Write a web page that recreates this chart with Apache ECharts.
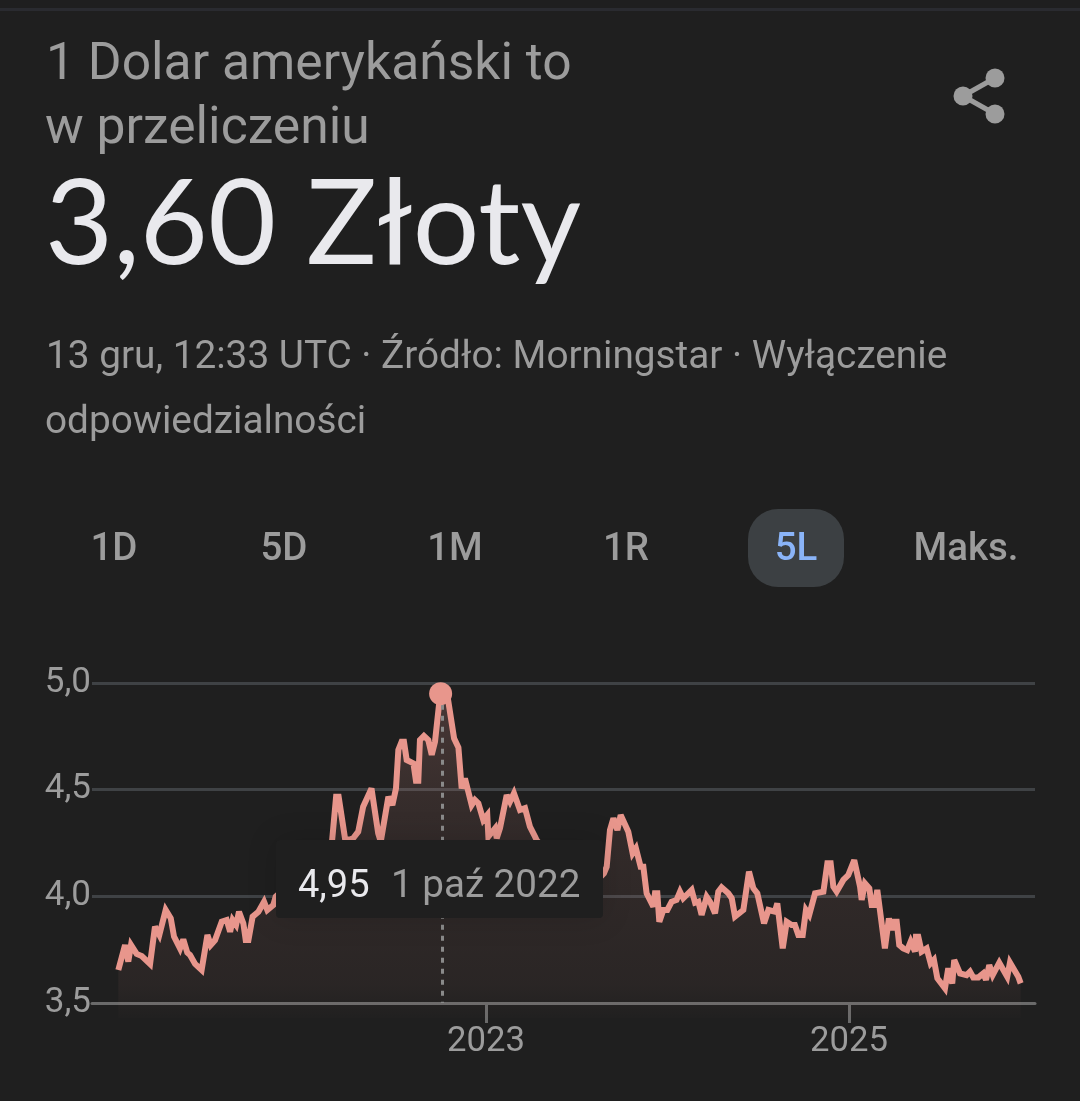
<!DOCTYPE html>
<html><head><meta charset="utf-8">
<style>html,body{margin:0;padding:0;background:#1f1f1f}#c{width:1080px;height:1101px}</style>
<script src="https://cdn.jsdelivr.net/npm/echarts@6/dist/echarts.min.js"></script>
</head><body><div id="c"></div>
<script>
const years = [2020.974,2021.011,2021.029,2021.044,2021.075,2021.103,2021.149,2021.176,2021.200,2021.235,2021.263,2021.281,2021.314,2021.332,2021.354,2021.369,2021.397,2021.433,2021.465,2021.483,2021.507,2021.544,2021.571,2021.590,2021.604,2021.623,2021.639,2021.663,2021.676,2021.691,2021.714,2021.746,2021.777,2021.795,2021.828,2021.841,
2021.87,2021.92,2021.97,2022.00,2022.05,2022.10,2022.14,
2022.174,2022.188,2022.223,2022.241,2022.268,2022.296,2022.323,2022.369,2022.406,2022.420,
2022.462,2022.484,2022.504,2022.517,2022.535,2022.548,2022.563,2022.600,2022.614,2022.627,2022.636,2022.658,2022.682,2022.701,2022.719,2022.747,2022.769,2022.787,2022.824,2022.848,2022.866,2022.884,2022.921,2022.939,2022.958,2022.985,2023.007,2023.013,2023.050,2023.059,2023.077,2023.114,2023.132,2023.154,2023.187,2023.215,2023.242,2023.270,2023.279,
2023.32,2023.36,2023.40,2023.44,2023.48,2023.52,2023.56,2023.60,2023.63,
2023.650,2023.665,2023.683,2023.702,2023.724,2023.742,2023.784,2023.808,2023.826,2023.852,2023.867,2023.885,2023.922,2023.931,2023.944,2023.955,2023.977,2023.999,2024.023,2024.050,
2024.069,2024.087,2024.133,2024.152,2024.170,2024.188,2024.216,2024.234,2024.262,2024.280,2024.298,2024.335,2024.354,2024.372,2024.418,2024.449,2024.473,2024.495,2024.532,2024.556,2024.592,2024.605,2024.635,2024.657,2024.684,2024.702,2024.721,2024.745,2024.763,2024.781,2024.813,2024.859,2024.881,2024.899,2024.914,2024.932,2024.969,2024.996,2025.029,2025.061,2025.070,2025.088,2025.112,2025.125,2025.143,2025.156,2025.167,2025.198,2025.208,2025.220,2025.235,2025.248,2025.263,2025.277,2025.299,2025.321,2025.340,2025.364,2025.369,2025.382,2025.400,2025.428,2025.450,2025.468,2025.487,2025.529,2025.547,2025.569,2025.580,2025.612,2025.648,2025.667,2025.685,2025.713,2025.740,2025.755,2025.773,2025.792,2025.828,2025.872,2025.887,2025.933,2025.946];
const rates = [3.655,3.772,3.694,3.772,3.730,3.720,3.683,3.858,3.819,3.936,3.897,3.811,3.756,3.798,3.736,3.725,3.683,3.655,3.819,3.772,3.795,3.881,3.889,3.834,3.889,3.866,3.928,3.873,3.795,3.795,3.905,3.928,3.975,3.936,3.959,3.998,
4.02,4.08,4.03,4.06,4.05,4.10,4.15,
4.467,4.467,4.272,4.264,4.272,4.303,4.420,4.506,4.295,4.256,
4.467,4.428,4.506,4.686,4.725,4.725,4.639,4.623,4.542,4.542,4.733,4.752,4.733,4.663,4.725,4.944,4.970,4.944,4.741,4.698,4.506,4.553,4.428,4.452,4.436,4.358,4.381,4.280,4.319,4.272,4.319,4.475,4.444,4.483,4.405,4.413,4.327,4.280,4.264,
4.22,4.17,4.20,4.14,4.10,4.06,4.03,4.07,4.09,
4.108,4.139,4.311,4.366,4.311,4.381,4.303,4.202,4.225,4.139,4.139,4.014,3.952,4.014,4.014,3.881,3.936,3.936,3.975,3.983,
4.022,3.991,4.030,3.970,3.975,3.913,3.998,3.975,3.920,4.022,4.042,4.014,3.991,3.905,3.936,4.116,4.038,4.014,3.873,3.936,3.928,3.967,3.756,3.881,3.866,3.866,3.819,3.819,3.936,3.913,4.014,4.022,4.155,4.155,4.045,4.022,4.077,4.100,4.170,4.045,3.983,4.061,4.038,3.959,3.959,4.030,4.030,3.756,3.756,3.897,3.842,3.881,3.881,3.772,3.756,3.748,3.788,3.741,3.811,3.811,3.741,3.756,3.686,3.702,3.616,3.569,3.663,3.592,3.702,3.639,3.631,3.647,3.620,3.620,3.639,3.608,3.678,3.631,3.689,3.623,3.689,3.623,3.592];
const xTicks = [2023, 2025];
const peakYear = 2022.75, peakRate = 4.95;
const ranges = ['1D','5D','1M','1R','5L','Maks.'];
const rangeCentres = [114,284,455,626,796,966];
const grey='#9c9c9c', white='#e9e9ed', pink='#e8968c';
const F='Roboto, sans-serif';
function txt(x,y,s,size,fill,opt){return Object.assign({type:'text',z:100,style:Object.assign({x,y,text:s,fontSize:size,fontFamily:F,fill,align:'left',verticalAlign:'middle'},opt||{})});}
const graphic=[
 {type:'rect',z:100,shape:{x:0,y:8,width:1080,height:3},style:{fill:'#2a2b30'}},
 txt(46,66,'1 Dolar amerykański to',51.6,grey),
 txt(45,130,'w przeliczeniu',51.6,grey),
 txt(45,226,'3,60 Złoty',117.5,white,{fontFamily:'Lato, sans-serif'}),
 txt(46,358,'13 gru, 12:33 UTC · Źródło: Morningstar · Wyłączenie',38.75,grey),
 txt(45,423,'odpowiedzialności',38.75,grey),
 {type:'line',z:100,shape:{x1:995,y1:78,x2:963,y2:96},style:{stroke:grey,lineWidth:5}},
 {type:'line',z:100,shape:{x1:995,y1:114,x2:963,y2:96},style:{stroke:grey,lineWidth:5}},
 {type:'circle',z:100,shape:{cx:995,cy:78,r:9.5},style:{fill:grey}},
 {type:'circle',z:100,shape:{cx:995,cy:114,r:9.5},style:{fill:grey}},
 {type:'circle',z:100,shape:{cx:963,cy:96,r:9.5},style:{fill:grey}},
 {type:'rect',z:100,shape:{x:748,y:509,width:96,height:78,r:30},style:{fill:'#3c4043'}},
 ...ranges.map((r,i)=>txt(rangeCentres[i],550,r,38.5,r==='5L'?'#8ab4f8':grey,{align:'center',fontWeight:500})),
 {type:'rect',z:100,shape:{x:276,y:840,width:327,height:78,r:4},style:{fill:'#1f1f1f',shadowBlur:30,shadowColor:'rgba(0,0,0,0.15)'}},
 txt(298,887,'4,95',38,white),
 txt(391,887,'1 paź 2022',38.6,grey)
];
const chart=echarts.init(document.getElementById('c'),null,{renderer:'canvas'});
chart.setOption({
 animation:false,backgroundColor:'#1f1f1f',graphic,
 grid:{left:92,right:45,top:683,height:320,containLabel:false},
 xAxis:{type:'value',min:2020.829,max:2026.025,splitLine:{show:false},
  axisLine:{show:true,onZero:false,lineStyle:{color:'#6a6a6a',width:3}},
  axisTick:{show:true,customValues:xTicks,length:20,lineStyle:{color:'#6a6a6a',width:3}},
  axisLabel:{show:true,customValues:xTicks,formatter:v=>String(Math.round(v)),color:grey,fontSize:34.7,fontFamily:F,margin:22}},
 yAxis:{type:'value',min:3.5,max:5,interval:0.5,axisLine:{show:false},axisTick:{show:false},
  splitLine:{show:true,lineStyle:{color:'#3f4245',width:3}},
  axisLabel:{color:grey,fontSize:35,fontFamily:F,margin:1,padding:[4,0,0,0],formatter:v=>v.toFixed(1).replace('.',',')}},
 series:[{type:'line',clip:false,data:years.map((y,i)=>[y,rates[i]]),showSymbol:false,smooth:false,
  lineStyle:{color:pink,width:6,join:'miter',miterLimit:3},
  areaStyle:{origin:3.43,color:new echarts.graphic.LinearGradient(0,0,0,1,[
   {offset:0,color:'rgba(232,150,140,0.30)'},{offset:0.35,color:'rgba(232,150,140,0.16)'},
   {offset:0.9,color:'rgba(232,150,140,0.08)'},{offset:1,color:'rgba(232,150,140,0.01)'}])},
  markLine:{silent:true,symbol:'none',label:{show:false},lineStyle:{color:'#8a8a8a',type:[5,6],width:3},
   data:[[{coord:[peakYear+0.008,peakRate]},{coord:[peakYear+0.008,3.5]}]]},
  markPoint:{silent:true,symbol:'circle',symbolSize:23,itemStyle:{color:pink},label:{show:false},
   data:[{coord:[peakYear,peakRate]}]}
 }]
});
</script></body></html>
